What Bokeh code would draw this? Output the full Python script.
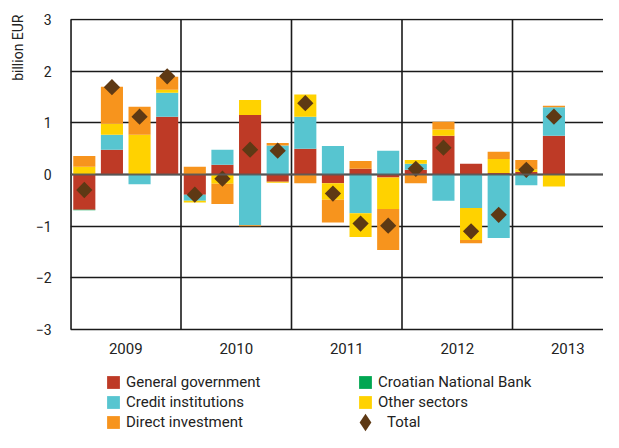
import math
from bokeh.plotting import figure
from bokeh.models import Range1d, FixedTicker, Span, Legend, LegendItem, Title
from bokeh.embed import file_html
from bokeh.resources import INLINE
from bokeh.core.properties import value

# ---------------- data (billion EUR, quarterly 2009 Q1 - 2013 Q2) ----------------
quarters = ["2009Q1", "2009Q2", "2009Q3", "2009Q4",
            "2010Q1", "2010Q2", "2010Q3", "2010Q4",
            "2011Q1", "2011Q2", "2011Q3", "2011Q4",
            "2012Q1", "2012Q2", "2012Q3", "2012Q4",
            "2013Q1", "2013Q2"]
years = ["2009", "2010", "2011", "2012", "2013"]
y_ticks = [-3, -2, -1, 0, 1, 2, 3]

general_government = [-0.68, 0.48, 0.00, 1.12, -0.39, 0.19, 1.15, -0.14, 0.50,
                      -0.17, 0.11, -0.06, 0.09, 0.75, 0.21, 0.03, 0.05, 0.75]
credit_institutions = [0.00, 0.29, -0.19, 0.46, -0.12, 0.29, -0.98, 0.56, 0.62,
                       0.55, -0.75, 0.46, 0.12, -0.51, -0.65, -1.23, -0.21, 0.55]
croatian_national_bank = [-0.01, 0.00, 0.00, 0.00, 0.00, 0.00, 0.00, 0.00, 0.00,
                          0.00, 0.00, 0.00, 0.00, 0.00, 0.00, 0.00, 0.00, 0.00]
other_sectors = [0.15, 0.21, 0.77, 0.06, -0.03, -0.18, 0.29, -0.02, 0.43,
                 -0.32, -0.46, -0.61, 0.07, 0.12, -0.62, 0.27, 0.05, -0.23]
direct_investment = [0.21, 0.72, 0.54, 0.25, 0.15, -0.39, -0.02, 0.05, -0.17,
                     -0.44, 0.15, -0.79, -0.17, 0.15, -0.06, 0.14, 0.18, 0.03]
total = [-0.30, 1.69, 1.12, 1.90, -0.39, -0.08, 0.48, 0.46, 1.38,
         -0.37, -0.95, -0.99, 0.11, 0.52, -1.10, -0.78, 0.09, 1.12]

series_names = ["General government", "Credit institutions", "Croatian National Bank",
                "Other sectors", "Direct investment"]
series_values = [general_government, credit_institutions, croatian_national_bank,
                 other_sectors, direct_investment]
series_colors = ["#BE3A26", "#57C5D0", "#00A651", "#FFD200", "#F7941D"]
total_color = "#5E3914"

FONT = "Roboto"
TXT = "#222222"

# ---------------- figure ----------------
W, H = 603, 432
LEFT, TOP = 70, 18
n = len(quarters)
xs = [i + 0.5 for i in range(n)]
y_lo, y_hi = min(y_ticks), max(y_ticks)
unit_px = 310 / (y_hi - y_lo)              # pixels per billion EUR
y_end = y_hi + 1 / unit_px                 # one pixel of room above the top line
y_start = y_lo - (H - TOP - 311) / unit_px  # area below the plot for labels and legend
quarter_px = 27.625

p = figure(width=W, height=H, output_backend="svg", toolbar_location=None,
           x_range=Range1d(0, (W - LEFT) / quarter_px), y_range=Range1d(y_start, y_end),
           min_border_left=LEFT, min_border_right=0, min_border_top=TOP,
           min_border_bottom=0)
p.outline_line_color = None
p.background_fill_color = "white"
p.border_fill_color = "white"

# stacked bars (positive and negative stacks separately)
pos = [0.0] * n
neg = [0.0] * n
renderers = {}
for name, vals, color in zip(series_names, series_values, series_colors):
    tops, bottoms = [], []
    for i, v in enumerate(vals):
        if v >= 0:
            bottoms.append(pos[i]); tops.append(pos[i] + v); pos[i] += v
        else:
            tops.append(neg[i]); bottoms.append(neg[i] + v); neg[i] += v
    r = p.vbar(x=xs, width=0.8, top=tops, bottom=bottoms,
               fill_color=color, line_color=None)
    renderers[name] = r

# legend key for the total: legend keys are drawn unrotated, so a diamond marker
# is used there; on the plot it sits fully hidden under the rotated squares
rt_key = p.scatter(x=xs, y=total, marker="diamond", size=10,
                   fill_color=total_color, line_color=None)
rt = p.scatter(x=xs, y=total, marker="square", angle=math.pi / 4, size=11.5,
               fill_color=total_color, line_color=None)

# zero line over the bars
p.add_layout(Span(location=0, dimension="width", line_color="#5a5a5a",
                  line_width=2, line_alpha=0.9, level="overlay"))

# horizontal grid lines
p.ygrid.ticker = FixedTicker(ticks=y_ticks)
p.ygrid.grid_line_color = "#1a1a1a"
p.ygrid.grid_line_width = 1.6
p.xgrid.grid_line_color = None

# vertical year separators (only between -3 and 3)
bounds = [4 * k for k in range(len(years))]
p.segment(x0=bounds, y0=[y_lo] * len(bounds), x1=bounds, y1=[y_hi] * len(bounds),
          line_color="#1a1a1a", line_width=1.6, level="underlay")
p.segment(x0=[0], y0=[y_lo], x1=[0], y1=[y_hi], line_color="#111111",
          line_width=2.4, level="underlay")

# y axis
p.yaxis.ticker = FixedTicker(ticks=y_ticks)
p.yaxis.major_label_overrides = {t: (str(t) if t >= 0 else "\u2212" + str(-t))
                                 for t in y_ticks}
p.yaxis.major_tick_line_color = None
p.yaxis.minor_tick_line_color = None
p.yaxis.axis_line_color = None
p.yaxis.major_label_standoff = 13
p.yaxis.major_label_text_font = FONT
p.yaxis.major_label_text_font_size = "14px"
p.yaxis.major_label_text_color = TXT
p.xaxis.visible = False

# year labels centred under each group of four quarters
year_centers = [4 * k + 2 for k in range(len(years))]
p.text(x=year_centers, y=[y_lo - 19 / unit_px] * len(years), text=years,
       text_align="center", text_baseline="middle", text_font=value(FONT),
       text_font_size="15px", text_color=TXT)

# y axis title at the top-left
p.add_layout(Title(text="billion EUR", align="right", text_font=FONT,
                   text_font_size="14px", text_font_style="normal",
                   text_color=TXT, standoff=14, offset=-4), "left")

# legends (two columns) placed under the plot
def make_legend(items, loc, glyph=16, standoff=5):
    return Legend(items=[LegendItem(label=nm, renderers=[r]) for nm, r in items],
                  location=loc, orientation="vertical", padding=0, margin=0,
                  spacing=2, glyph_width=glyph, glyph_height=glyph, label_height=16,
                  label_standoff=standoff, border_line_color=None,
                  background_fill_alpha=0.0,
                  label_text_font=FONT, label_text_font_size="15px",
                  label_text_color=TXT)

p.add_layout(make_legend([(nm, renderers[nm]) for nm in
                          ["General government", "Credit institutions",
                           "Direct investment"]], (35, 1)))
p.add_layout(make_legend([(nm, renderers[nm]) for nm in
                          ["Croatian National Bank", "Other sectors"]], (287, 21)))
p.add_layout(make_legend([("Total", rt_key)], (273, -12), glyph=44, standoff=-7))

open("out.html", "w").write(file_html(p, INLINE))
